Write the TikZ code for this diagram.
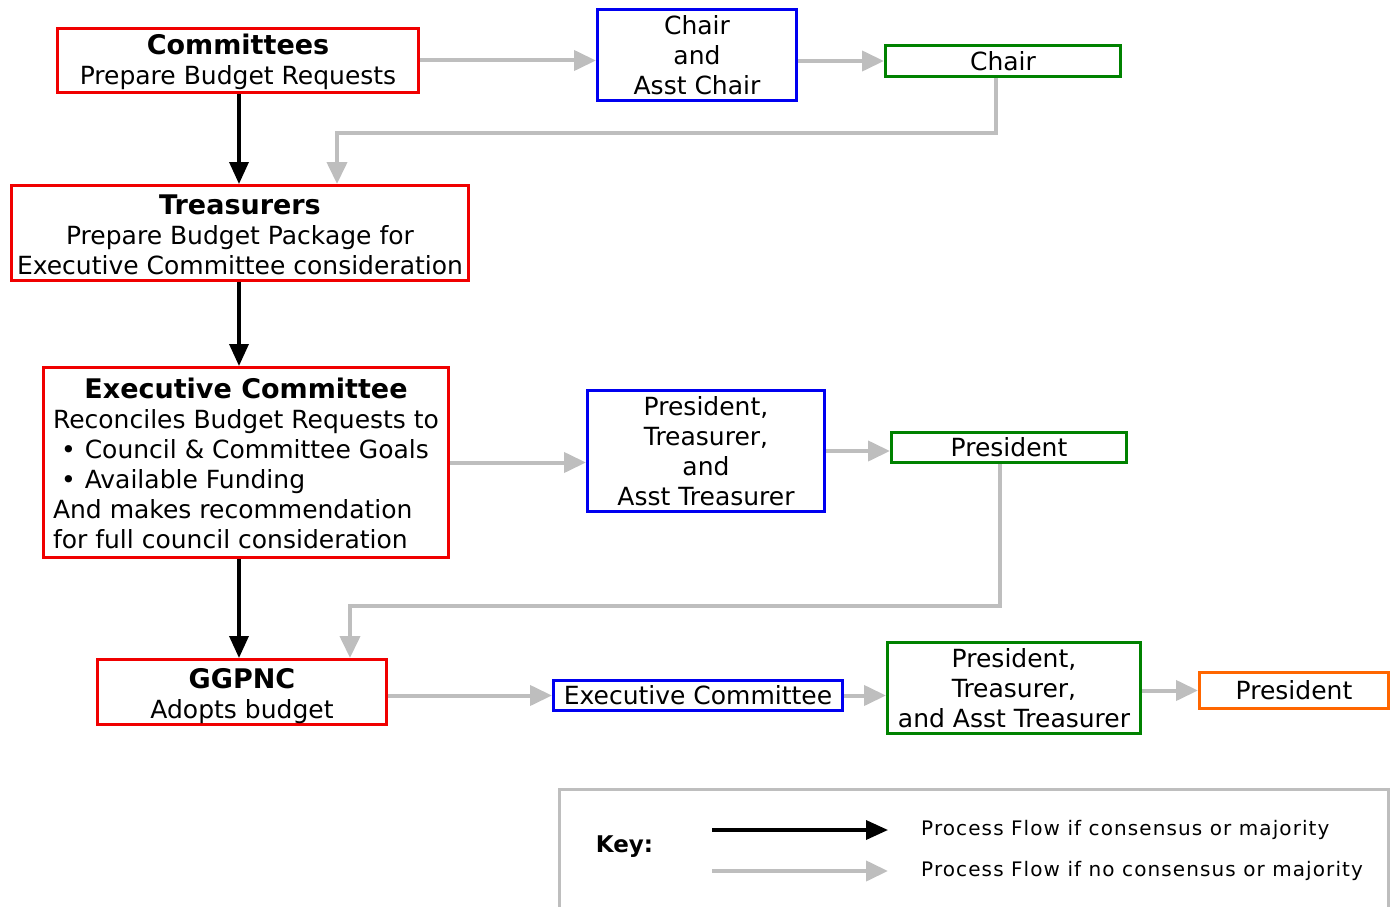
\documentclass[tikz,border=0pt]{standalone}
\usepackage{fontspec}
\setmainfont{DejaVu Sans}
\usetikzlibrary{arrows.meta}
\definecolor{cred}{RGB}{240,0,0}
\definecolor{cblue}{RGB}{0,0,240}
\definecolor{cgreen}{RGB}{0,130,0}
\definecolor{corange}{RGB}{255,102,0}
\definecolor{cgray}{RGB}{190,190,190}
\newcommand{\ttl}{\fontsize{27}{30}\selectfont\bfseries}
\tikzset{
  box/.style={draw, line width=3pt, inner sep=0pt, align=center, fill=white,
    font=\fontsize{25}{30}\selectfont},
  yes/.style={draw=black, line width=3.5pt, -{Triangle[length=22pt,width=19pt]}},
  no/.style={draw=cgray, line width=4pt, -{Triangle[length=22pt,width=20pt]}},
  keytext/.style={anchor=west, inner sep=0pt, font=\fontsize{20}{24}\selectfont\addfontfeature{LetterSpace=5.5}}
}
\begin{document}
\begin{tikzpicture}[x=1pt,y=-1pt]
\useasboundingbox (0,0) rectangle (1395,907);

% key frame
\draw[cgray, line width=3pt] (559.5,920) -- (559.5,789.5) -- (1388.5,789.5) -- (1388.5,920);

\node[box, draw=cred, minimum width=361pt, minimum height=64pt] (comm) at (238,60.5)
  {\rule{0pt}{24pt}{\ttl Committees}\\Prepare Budget Requests};
\node[box, draw=cblue, minimum width=199pt, minimum height=91pt] (chairb) at (697,55)
  {Chair\\and\\Asst Chair};
\node[box, draw=cgreen, minimum width=235pt, minimum height=31pt] (chairg) at (1003,61)
  {Chair};
\node[box, draw=cred, minimum width=457pt, minimum height=95pt] (treas) at (240,233)
  {\rule{0pt}{23.5pt}{\ttl Treasurers}\\Prepare Budget Package for\\Executive Committee consideration};
\node[box, draw=cred, minimum width=405pt, minimum height=186pt] (exec) at (246,462.5)
  {\begin{tabular}{@{}l@{}}
   \multicolumn{1}{@{}c@{}}{\rule{0pt}{31pt}\ttl Executive Committee}\\
   Reconciles Budget Requests to\\
   \hspace{8pt}•\hspace{9pt}Council \& Committee Goals\\
   \hspace{8pt}•\hspace{9pt}Available Funding\\
   And makes recommendation\\
   for full council consideration
   \end{tabular}};
\node[box, draw=cblue, minimum width=237pt, minimum height=121pt] (ptatb) at (706,451)
  {President,\\Treasurer,\\and\\Asst Treasurer};
\node[box, draw=cgreen, minimum width=235pt, minimum height=30pt] (presg) at (1009,447.5)
  {President};
\node[box, draw=cred, minimum width=289pt, minimum height=65pt] (ggpnc) at (242,692)
  {\rule{0pt}{27.5pt}{\ttl GGPNC}\\Adopts budget};
\node[box, draw=cblue, minimum width=289pt, minimum height=30pt] (execb) at (698,695.5)
  {Executive Committee};
\node[box, draw=cgreen, minimum width=253pt, minimum height=91pt] (ptatg) at (1014,688)
  {President,\\Treasurer,\\and Asst Treasurer};
\node[box, draw=corange, minimum width=189pt, minimum height=36pt] (preso) at (1294,690.5)
  {President};

% black flow
\draw[yes] (comm.south -| 239,0) -- (treas.north -| 239,0);
\draw[yes] (treas.south -| 239,0) -- (exec.north -| 239,0);
\draw[yes] (exec.south -| 239,0) -- (ggpnc.north -| 239,0);

% gray flow
\draw[no] (comm.east) -- (comm.east -| chairb.west);
\draw[no] (chairb.east |- chairg.west) -- (chairg.west);
\coordinate (c1) at (337,133);
\draw[no] ([xshift=-7pt]chairg.south) |- (c1) -- (c1 |- treas.north);
\draw[no] (exec.east) -- (exec.east -| ptatb.west);
\draw[no] (ptatb.east) -- (ptatb.east -| presg.west);
\coordinate (c2) at (350,606);
\draw[no] ([xshift=-9pt]presg.south) |- (c2) -- (c2 |- ggpnc.north);
\draw[no] (execb.west -| ggpnc.east) -- (execb.west);
\draw[no] (execb.east) -- (execb.east -| ptatg.west);
\draw[no] (preso.west -| ptatg.east) -- (preso.west);

% key
\node[font=\fontsize{23}{28}\selectfont\bfseries, inner sep=0pt] (keylbl) at (624.5,847) {Key:};
\coordinate (k1s) at (712,830);
\coordinate (k1e) at (888,830);
\coordinate (k2s) at (712,871);
\coordinate (k2e) at (888,871);
\draw[yes] (k1s) -- (k1e);
\draw[no] (k2s) -- (k2e);
\node[keytext] (kt1) at (921,830) {Process Flow if consensus or majority};
\node[keytext] (kt2) at (921,871) {Process Flow if no consensus or majority};
\end{tikzpicture}
\end{document}
